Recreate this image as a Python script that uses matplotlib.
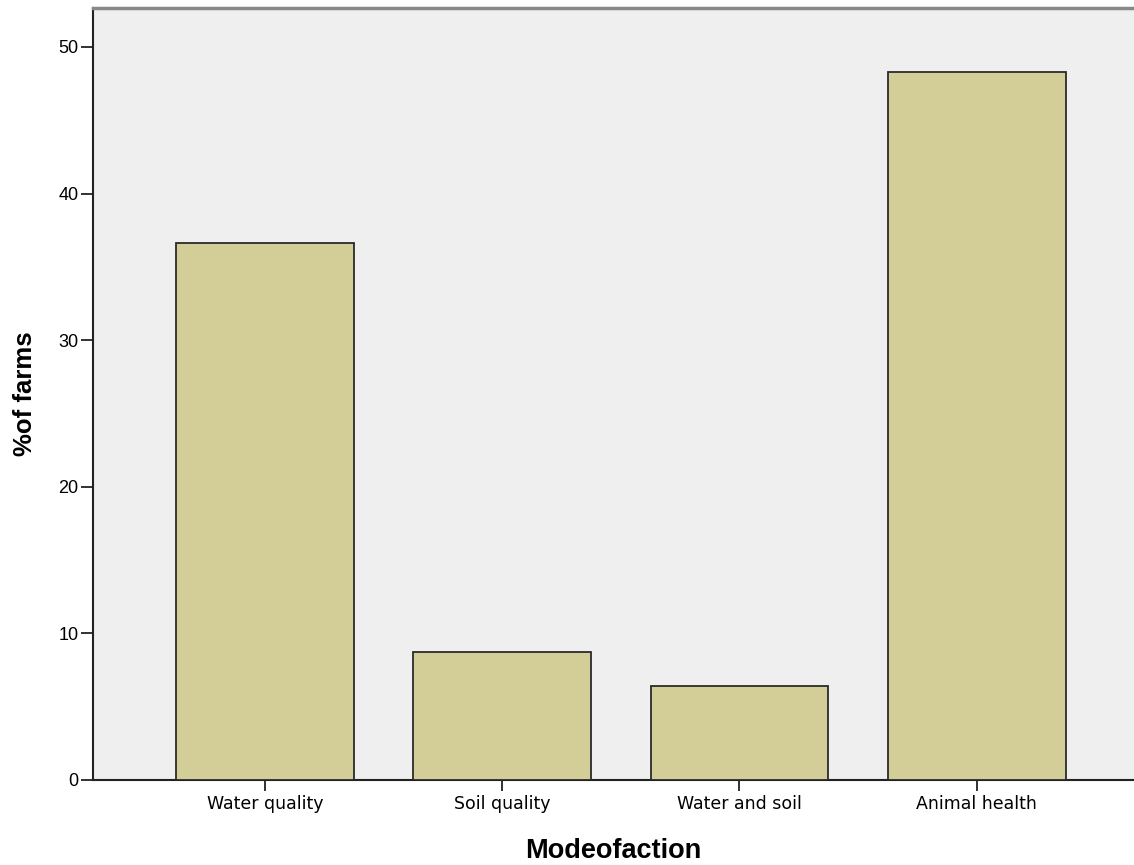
import numpy as np
import matplotlib.pyplot as plt

plt.rcParams['font.family'] = ['Liberation Sans', 'DejaVu Sans']

# Data
categories = ["Water quality", "Soil quality", "Water and soil", "Animal health"]
pct_farms = [36.6, 8.7, 6.4, 48.3]

fig = plt.figure(figsize=(11.34, 8.65), dpi=100)
ax = fig.add_axes([0.082, 0.0983, 0.918, 0.8925])
ax.set_facecolor("#efefef")

x = np.arange(len(categories))
ax.bar(x, pct_farms, width=0.75, color="#d3ce98", edgecolor="#2a2a2a", linewidth=1.3, zorder=3)

ax.set_xlim(-0.725, 3.663)
ax.set_ylim(0, 52.66)
ax.set_xticks(x)
ax.set_xticklabels(categories, fontsize=12.5, family="DejaVu Sans")
ax.set_yticks([0, 10, 20, 30, 40, 50])
ax.set_yticklabels([str(v) for v in [0, 10, 20, 30, 40, 50]], fontsize=13)
ax.tick_params(axis="y", direction="out", length=9, width=1.3, color="#222222", pad=1.5)
ax.tick_params(axis="x", direction="out", length=8, width=1.3, color="#222222", pad=3)

ax.spines["right"].set_visible(False)
ax.spines["top"].set_color("#888888")
ax.spines["top"].set_linewidth(2.5)
ax.spines["left"].set_linewidth(1.5)
ax.spines["bottom"].set_linewidth(1.5)
ax.spines["left"].set_color("#222222")
ax.spines["bottom"].set_color("#222222")

ax.set_ylabel("%of farms", fontsize=18.5, fontweight="bold", labelpad=15)
ax.set_xlabel("Modeofaction", fontsize=19.5, fontweight="bold", labelpad=18)

plt.savefig("out.png", dpi=100)
plt.close("all")
